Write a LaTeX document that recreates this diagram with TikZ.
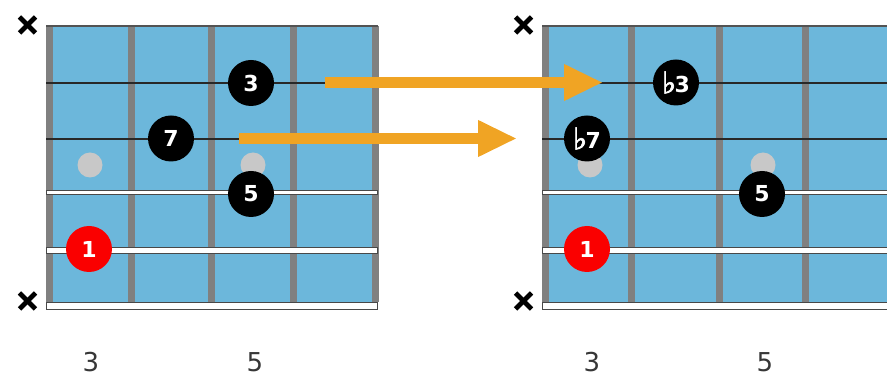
\documentclass[tikz,border=0pt]{standalone}
\usepackage{fontspec}
\setmainfont{DejaVu Sans}
\newfontfamily\flatfont[FakeBold=2.5]{DejaVu Sans}
\usetikzlibrary{arrows.meta}
\definecolor{board}{RGB}{108,183,219}
\definecolor{fretc}{RGB}{128,128,128}
\definecolor{strdark}{RGB}{40,40,40}
\definecolor{dotgrey}{RGB}{200,200,200}
\definecolor{arrowc}{RGB}{240,164,36}
\definecolor{rootred}{RGB}{250,0,0}
\definecolor{numc}{RGB}{55,55,55}
\newcommand{\flatsign}{{\flatfont\fontsize{30}{30}\selectfont\raisebox{-1pt}{♭}}\kern-1.5pt}
\tikzset{
  note/.style={circle, fill=black, minimum size=46pt, inner sep=0pt, text=white,
    font=\bfseries\fontsize{22}{22}\selectfont},
  rootnote/.style={note, fill=rootred},
  fretnum/.style={text=numc, font=\fontsize{26}{26}\selectfont, inner sep=0pt},
  xmark/.style={line width=4.8pt, black},
  bigarrow/.style={draw=arrowc, line width=11pt, -{Triangle[length=39pt,width=34pt]}},
  thinstr/.style={line width=1.3pt, strdark},
}
\begin{document}
\begin{tikzpicture}[x=1pt,y=-1pt]
\useasboundingbox (0,0) rectangle (887,379);
% ---------- left board ----------
\fill[board] (46,26) rectangle (378,302);
\foreach \f in {49,131.5,211.5,293,375}
  \fill[fretc] (\f-3.5,26) rectangle (\f+3.5,302);
\draw[line width=2pt, strdark!80] (46,26) -- (378,26);
\draw[thinstr] (46,83) -- (378,83);
\draw[thinstr] (46,139) -- (378,139);
\draw[line width=5pt, strdark!85] (46,193) -- (378,193);
\draw[line width=3pt, white] (46.8,193) -- (377.2,193);
\draw[line width=7pt, strdark!85] (46,250.5) -- (378,250.5);
\draw[line width=4.6pt, white] (46.8,250.5) -- (377.2,250.5);
\draw[line width=8pt, strdark!85] (46,306) -- (378,306);
\draw[line width=5.6pt, white] (46.8,306) -- (377.2,306);
\fill[dotgrey] (90,165) circle[radius=12.5pt];
\fill[dotgrey] (253,165) circle[radius=12.5pt];
% ---------- right board ----------
\fill[board] (542,26) rectangle (887,302);
\foreach \f in {545.5,631.5,719.5,805.5}
  \fill[fretc] (\f-3.5,26) rectangle (\f+3.5,302);
\draw[line width=2pt, strdark!80] (542,26) -- (887,26);
\draw[thinstr] (542,83) -- (887,83);
\draw[thinstr] (542,139) -- (887,139);
\draw[line width=5pt, strdark!85] (542,193) -- (887,193);
\draw[line width=3pt, white] (542.8,193) -- (887,193);
\draw[line width=7pt, strdark!85] (542,250.5) -- (887,250.5);
\draw[line width=4.6pt, white] (542.8,250.5) -- (887,250.5);
\draw[line width=8pt, strdark!85] (542,306) -- (887,306);
\draw[line width=5.6pt, white] (542.8,306) -- (887,306);
\fill[dotgrey] (590,165) circle[radius=12.5pt];
\fill[dotgrey] (763,165) circle[radius=12.5pt];
% ---------- X marks ----------
\foreach \cx/\cy in {27.5/25, 27.5/301, 523.5/25, 523.5/301}{
  \draw[xmark] (\cx-8,\cy-8) -- (\cx+8,\cy+8);
  \draw[xmark] (\cx-8,\cy+8) -- (\cx+8,\cy-8);
}
% ---------- arrows ----------
\coordinate (a1s) at (325,82.5);
\coordinate (a1e) at (603,82.5);
\coordinate (a2s) at (239,138.5);
\coordinate (a2e) at (517,138.5);
\draw[bigarrow] (a1s) -- (a1e);
\draw[bigarrow] (a2s) -- (a2e);
% ---------- notes ----------
\node[note] (L3) at (251,83) {3};
\node[note] (L7) at (171,138.5) {7};
\node[note] (L5) at (251,194) {5};
\node[rootnote] (L1) at (89,249) {1};
\node[note] (Rb3) at (676,82.5) {\flatsign 3};
\node[note] (Rb7) at (587,138.5) {\flatsign 7};
\node[note] (R5) at (762,194) {5};
\node[rootnote] (R1) at (587,249) {1};
% ---------- fret numbers ----------
\node[fretnum] (F1) at (91,362) {3};
\node[fretnum] (F2) at (255,362) {5};
\node[fretnum] (F3) at (592,362) {3};
\node[fretnum] (F4) at (765,362) {5};
\end{tikzpicture}
\end{document}
